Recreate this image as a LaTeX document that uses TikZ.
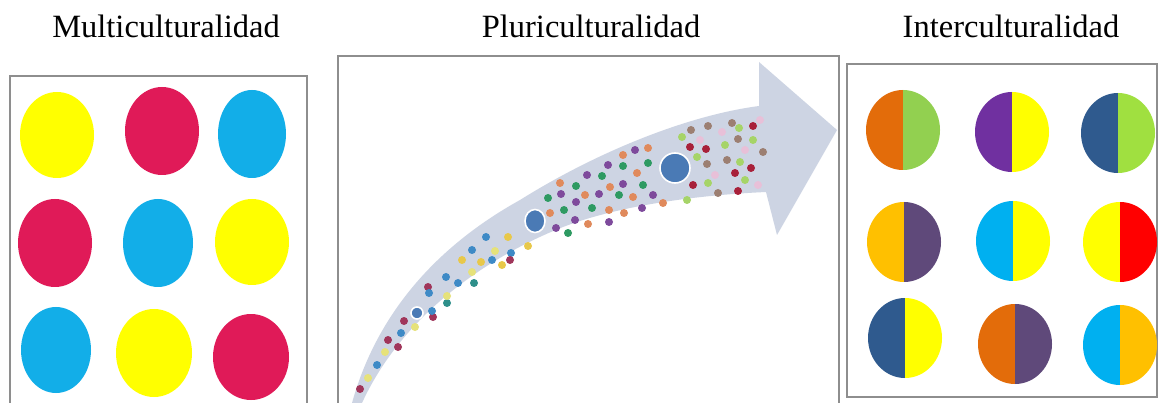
\documentclass[tikz,border=0pt]{standalone}
\usepackage{fontspec}
\setmainfont{Liberation Serif}
\definecolor{cY}{HTML}{FFFF00}
\definecolor{cR}{HTML}{E01A58}
\definecolor{cB}{HTML}{12AEE8}
\definecolor{hOr}{HTML}{E36C0A}
\definecolor{hLg}{HTML}{92D050}
\definecolor{hPu}{HTML}{7030A0}
\definecolor{hDb}{HTML}{2F5A8E}
\definecolor{hYo}{HTML}{FFC000}
\definecolor{hDp}{HTML}{5F497A}
\definecolor{hCy}{HTML}{00B0F0}
\definecolor{hRd}{HTML}{FF0000}
\definecolor{hLg2}{HTML}{A0E040}
\definecolor{arr}{HTML}{CDD4E3}
\definecolor{boxc}{HTML}{8E8E8E}
\definecolor{dR}{HTML}{A0355A}
\definecolor{dB}{HTML}{3E8AC6}
\definecolor{dY}{HTML}{E6E27A}
\definecolor{dYo}{HTML}{E8C84A}
\definecolor{dG}{HTML}{2E9A62}
\definecolor{dP}{HTML}{7E4A9C}
\definecolor{dO}{HTML}{E08A5C}
\definecolor{rR}{HTML}{A8203A}
\definecolor{lG}{HTML}{A6D468}
\definecolor{bR}{HTML}{9C7F72}
\definecolor{dT}{HTML}{2E8F8A}
\definecolor{pk}{HTML}{E8C0D8}
\definecolor{bigb}{HTML}{4A7AB5}
\newcommand\mydot[3]{\fill[#3] (#1,#2) circle (4);}
\newcommand\halfdot[4]{\begin{scope}\clip (#1,#2) ellipse (37 and 40);
\fill[#3] (#1-40,#2-42) rectangle (#1,#2+42);
\fill[#4] (#1,#2-42) rectangle (#1+40,#2+42);\end{scope}}
\tikzset{
  frame/.style={draw=boxc, line width=1.3pt},
  title/.style={font=\fontsize{32.5}{36}\selectfont, anchor=base},
  bigdot/.style={fill=bigb, draw=white, line width=1.6pt}
}
\begin{document}
\begin{tikzpicture}[x=1pt,y=-1pt]
\useasboundingbox (0,0) rectangle (1159,403);
\clip (0,0) rectangle (1159,403);
\fill[white] (0,0) rectangle (1159,403);
% titles
\node[title] (t1) at (166,38) {Multiculturalidad};
\node[title] (t2) at (591,38) {Pluriculturalidad};
\node[title] (t3) at (1011,38) {Interculturalidad};
% boxes
\draw[frame] (10,420) -- (10,76) -- (307,76) -- (307,420);
\draw[frame] (338,420) -- (338,56) -- (839,56) -- (839,420);
\draw[frame] (847,64) rectangle (1157,397);
% left ellipses
\fill[cY] (57,135) ellipse (37 and 43);
\fill[cR] (162,131) ellipse (37 and 44);
\fill[cB] (252,134) ellipse (34 and 44);
\fill[cR] (55,243) ellipse (37 and 44);
\fill[cB] (158,243) ellipse (35 and 44);
\fill[cY] (252,242) ellipse (37 and 43);
\fill[cB] (56,350) ellipse (35 and 43);
\fill[cY] (154,353) ellipse (38 and 44);
\fill[cR] (251,357) ellipse (38 and 43);
% arrow
\fill[arr] (352,403) .. controls (375,320) and (430,250) .. (520,200)
  .. controls (600,150) and (690,115) .. (759,106) -- (759,62) -- (837,130)
  -- (777,235) -- (766,192) .. controls (700,195) and (620,205) .. (563,227)
  .. controls (480,260) and (400,320) .. (362,403) -- cycle;
% dots bottom-left
\mydot{360}{389}{dR}\mydot{368}{378}{dY}\mydot{377}{365}{dB}\mydot{385}{352}{dY}
\mydot{388}{340}{dR}\mydot{398}{347}{dR}\mydot{401}{333}{dB}\mydot{404}{321}{dR}
\mydot{415}{327}{dY}\mydot{428}{287}{dR}\mydot{429}{293}{dB}\mydot{433}{317}{dR}
\mydot{432}{311}{dB}\mydot{446}{277}{dB}\mydot{447}{303}{dT}\mydot{447}{296}{dY}
\mydot{458}{283}{dB}\mydot{462}{260}{dYo}\mydot{472}{250}{dB}\mydot{472}{272}{dY}
\mydot{474}{283}{dT}\mydot{481}{262}{dYo}\mydot{486}{237}{dB}\mydot{492}{260}{dB}
\mydot{495}{251}{dY}\mydot{502}{265}{dYo}\mydot{508}{237}{dYo}\mydot{511}{253}{dB}
\mydot{510}{260}{dR}\mydot{528}{246}{dYo}
% dots middle
\mydot{548}{198}{dG}\mydot{550}{213}{dO}\mydot{556}{228}{dP}\mydot{560}{183}{dO}
\mydot{561}{194}{dP}\mydot{564}{210}{dG}\mydot{568}{233}{dG}\mydot{576}{186}{dG}
\mydot{576}{202}{dP}\mydot{575}{220}{dP}\mydot{585}{195}{dO}\mydot{587}{175}{dP}
\mydot{588}{224}{dO}\mydot{592}{208}{dG}\mydot{599}{194}{dP}\mydot{602}{176}{dG}
\mydot{608}{165}{dP}\mydot{609}{210}{dO}\mydot{610}{187}{dO}\mydot{609}{222}{dP}
\mydot{619}{195}{dG}\mydot{623}{155}{dO}\mydot{623}{166}{dG}\mydot{623}{184}{dP}
\mydot{624}{213}{dO}\mydot{633}{197}{dO}\mydot{635}{150}{dP}\mydot{637}{173}{dO}
\mydot{642}{208}{dP}\mydot{643}{185}{dG}\mydot{648}{148}{dO}\mydot{648}{163}{dG}
\mydot{653}{195}{dP}\mydot{663}{203}{dO}
% dots right
\mydot{700}{140}{pk}\mydot{715}{175}{pk}\mydot{745}{150}{pk}\mydot{758}{185}{pk}
\mydot{722}{132}{pk}\mydot{760}{120}{pk}
\mydot{682}{137}{lG}\mydot{690}{147}{rR}\mydot{691}{130}{bR}\mydot{693}{185}{rR}
\mydot{687}{200}{lG}\mydot{697}{157}{lG}\mydot{706}{149}{rR}\mydot{708}{126}{bR}
\mydot{707}{164}{bR}\mydot{708}{183}{lG}\mydot{718}{193}{bR}\mydot{727}{160}{bR}
\mydot{725}{145}{lG}\mydot{732}{123}{bR}\mydot{739}{128}{lG}\mydot{738}{139}{bR}
\mydot{735}{173}{rR}\mydot{738}{191}{rR}\mydot{745}{180}{lG}\mydot{751}{168}{rR}
\mydot{753}{126}{rR}\mydot{753}{140}{lG}\mydot{740}{162}{lG}\mydot{763}{152}{bR}
% big dots
\draw[bigdot] (417,313) circle (6);
\draw[bigdot] (535,221) ellipse (10 and 11.5);
\draw[bigdot] (675,168) circle (15);
% right half circles
\halfdot{903}{130}{hOr}{hLg}
\halfdot{1012}{132}{hPu}{cY}
\halfdot{1118}{133}{hDb}{hLg2}
\halfdot{904}{242}{hYo}{hDp}
\halfdot{1013}{241}{hCy}{cY}
\halfdot{1120}{242}{cY}{hRd}
\halfdot{905}{338}{hDb}{cY}
\halfdot{1015}{344}{hOr}{hDp}
\halfdot{1120}{345}{hCy}{hYo}
\end{tikzpicture}
\end{document}
